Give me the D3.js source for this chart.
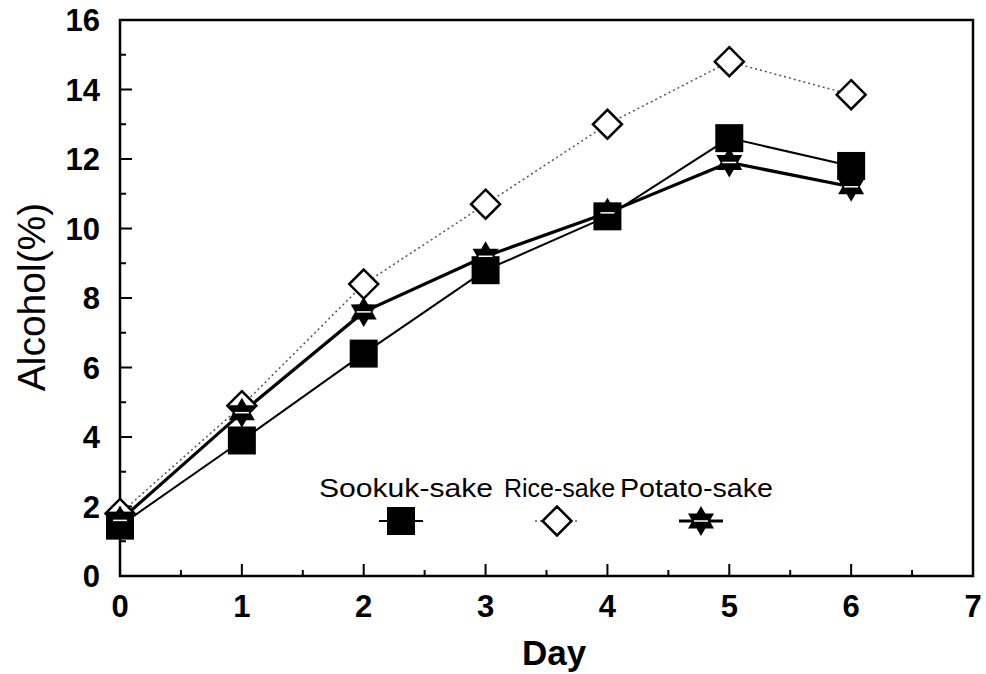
<!DOCTYPE html>
<html>
<head>
<meta charset="utf-8">
<script src="https://cdn.jsdelivr.net/npm/d3@7"></script>
<style>
  body { margin: 0; background: #fff; }
  svg { display: block; font-family: "Liberation Sans", Arial, sans-serif; }
</style>
</head>
<body>
<svg id="chart" width="986" height="674"></svg>
<script>
// Alcohol content (%) during fermentation, by day
const days = [0, 1, 2, 3, 4, 5, 6];
const sookuk = [1.45, 3.9, 6.4, 8.8, 10.35, 12.6, 11.8];
const rice = [1.8, 4.9, 8.4, 10.7, 13.0, 14.8, 13.85];
const potato = [1.6, 4.7, 7.6, 9.2, 10.45, 11.9, 11.2];
const seriesNames = ["Sookuk-sake", "Rice-sake", "Potato-sake"];
const xTicks = [0, 1, 2, 3, 4, 5, 6, 7];
const yTicks = [0, 2, 4, 6, 8, 10, 12, 14, 16];

const svg = d3.select("#chart");
const m = { left: 120, right: 973, top: 20, bottom: 576 };

const x = d3.scaleLinear().domain([0, 7]).range([m.left, m.right]);
const y = d3.scaleLinear().domain([0, 16]).range([m.bottom, m.top]);

// Frame
svg.append("rect")
  .attr("x", m.left).attr("y", m.top)
  .attr("width", m.right - m.left).attr("height", m.bottom - m.top)
  .attr("fill", "none").attr("stroke", "#000").attr("stroke-width", 2.5);

// Inward ticks: major on labelled values, minor halfway between
const xMinor = d3.range(0.5, 7, 1);
const yMinor = d3.range(1, 16, 2);
const tickG = svg.append("g").attr("stroke", "#000").attr("stroke-width", 2);
tickG.selectAll(".xt").data(xTicks.slice(1, -1)).join("line")
  .attr("x1", d => x(d)).attr("x2", d => x(d))
  .attr("y1", m.bottom).attr("y2", m.bottom - 12);
tickG.selectAll(".xm").data(xMinor).join("line")
  .attr("x1", d => x(d)).attr("x2", d => x(d))
  .attr("y1", m.bottom).attr("y2", m.bottom - 6);
tickG.selectAll(".yt").data(yTicks.slice(1, -1)).join("line")
  .attr("x1", m.left).attr("x2", m.left + 12)
  .attr("y1", d => y(d)).attr("y2", d => y(d));
tickG.selectAll(".ym").data(yMinor).join("line")
  .attr("x1", m.left).attr("x2", m.left + 6)
  .attr("y1", d => y(d)).attr("y2", d => y(d));

// Tick labels
svg.append("g").selectAll("text").data(xTicks).join("text")
  .attr("x", d => x(d)).attr("y", 617)
  .attr("text-anchor", "middle")
  .attr("font-size", 31).attr("font-weight", "bold")
  .text(d => d);
svg.append("g").selectAll("text").data(yTicks).join("text")
  .attr("x", 100).attr("y", d => y(d) + 11)
  .attr("text-anchor", "end")
  .attr("font-size", 31).attr("font-weight", "bold")
  .text(d => d);

// Axis titles
svg.append("text")
  .attr("x", 554).attr("y", 665)
  .attr("text-anchor", "middle")
  .attr("font-size", 35).attr("font-weight", "bold")
  .text("Day");
svg.append("text")
  .attr("transform", "translate(45,297) rotate(-90)")
  .attr("text-anchor", "middle")
  .attr("font-size", 39)
  .text("Alcohol(%)");

// Marker shapes
const square = d3.symbol().type(d3.symbolSquare).size(28 * 28);
const diamondPath = (r) => `M0,${-r}L${r},0L0,${r}L${-r},0Z`;
function starPath(r) {
  // six-pointed star (two overlapping triangles)
  const pts = [];
  for (let i = 0; i < 12; i++) {
    const a = -Math.PI / 2 + i * Math.PI / 6;
    const rr = i % 2 === 0 ? r : r * 0.58;
    pts.push([rr * Math.cos(a), rr * Math.sin(a)]);
  }
  return "M" + pts.map(p => p.join(",")).join("L") + "Z";
}

const line = d3.line().x((d, i) => x(days[i])).y(d => y(d));

const series = [
  { name: seriesNames[0], values: sookuk, stroke: "#000", width: 2, dash: null },
  { name: seriesNames[1], values: rice, stroke: "#555", width: 1.5, dash: "2,3" },
  { name: seriesNames[2], values: potato, stroke: "#000", width: 3.2, dash: null }
];

series.forEach(s => {
  svg.append("path")
    .attr("d", line(s.values))
    .attr("fill", "none")
    .attr("stroke", s.stroke)
    .attr("stroke-width", s.width)
    .attr("stroke-dasharray", s.dash);
});

function drawMarker(g, idx, cx, cy) {
  if (idx === 0) {
    g.append("path").attr("d", square())
      .attr("transform", `translate(${cx},${cy})`)
      .attr("fill", "#000");
  } else if (idx === 1) {
    g.append("path").attr("d", diamondPath(14.5))
      .attr("transform", `translate(${cx},${cy})`)
      .attr("fill", "#fff").attr("stroke", "#000").attr("stroke-width", 2.5);
  } else {
    g.append("path").attr("d", starPath(15))
      .attr("transform", `translate(${cx},${cy})`)
      .attr("fill", "#000");
    g.append("line")
      .attr("x1", cx - 7).attr("x2", cx + 7)
      .attr("y1", cy).attr("y2", cy)
      .attr("stroke", "#fff").attr("stroke-width", 1.5);
  }
}

// Markers: diamonds first, then squares, then stars on top
const markerG = svg.append("g");
[1, 0, 2].forEach(idx => {
  series[idx].values.forEach((v, i) => drawMarker(markerG, idx, x(days[i]), y(v)));
});

// Legend: names on one row, sample markers below
const legend = svg.append("g");
const legendText = [
  { x: 319, w: 174 },
  { x: 504, w: null },
  { x: 620, w: 153 }
];
legendText.forEach((t, idx) => {
  const txt = legend.append("text")
    .attr("x", t.x).attr("y", 497)
    .attr("font-size", 25)
    .text(seriesNames[idx]);
  if (t.w) txt.attr("textLength", t.w).attr("lengthAdjust", "spacingAndGlyphs");
});
const legendX = [401, 557, 701];
legendX.forEach((lx, idx) => {
  const s = series[idx];
  legend.append("line")
    .attr("x1", lx - 22).attr("x2", lx + 22)
    .attr("y1", 521).attr("y2", 521)
    .attr("stroke", s.stroke).attr("stroke-width", s.width)
    .attr("stroke-dasharray", s.dash);
  drawMarker(legend, idx, lx, 521);
});
</script>
</body>
</html>
